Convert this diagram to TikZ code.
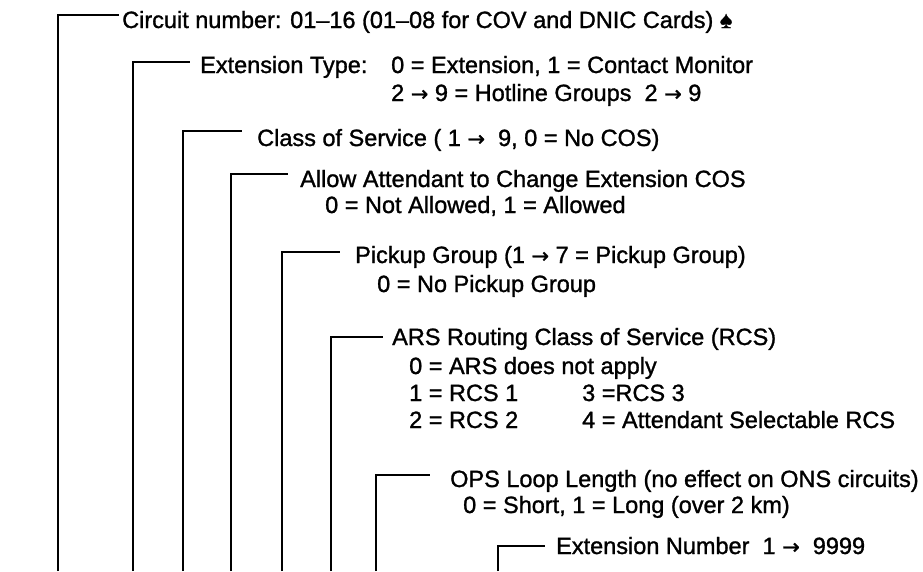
\documentclass[tikz,border=0pt]{standalone}
\usepackage{fontspec}
\setmainfont{Liberation Sans}
\newfontfamily\arrowfont{DejaVu Sans}[FakeBold=1]
\newcommand\toarr{{\arrowfont\fontsize{21}{28}\selectfont →}}
\usepackage{tikz}
\usetikzlibrary{positioning}

\begin{document}
\begin{tikzpicture}[
    x=1pt, y=-1pt,
    every node/.style={font=\fontsize{23.5}{28}\selectfont\addfontfeatures{FakeBold=1.2}},
    lbl/.style={anchor=base west, inner sep=0pt},
    lead/.style={line width=2.8pt, draw=black}
]
\useasboundingbox (0,0) rectangle (923,571);

% Bracket corners and their feet on the bottom edge
\foreach \n/\x/\y/\e in {circ/58/15/119, type/133/62/190, cos/183/131/242,
    allow/231/174/288, pick/282/252/340, ars/331/337/383, ops/376/475/430,
    num/498/546/545}{
  \coordinate (\n-foot) at (\x,571);
  \coordinate (\n-end) at (\e,\y);
}

% Circuit number
\node[lbl] (circ) at (122,28) {Circuit number: 01–16 (01–08 for COV and DNIC Cards) ♠};

% Extension type
\node[lbl] (type) at (200,73) {Extension Type:};
\node[lbl] (type-a) at (391,73) {0 = Extension, 1 = Contact Monitor};
\node[lbl] (type-b) at (391,101) {2 \toarr\ 9 = Hotline Groups\ \ 2 \toarr\ 9};

% Class of service
\node[lbl] (cos) at (257,146) {Class of Service ( 1 \toarr\ \ 9, 0 = No COS)};

% Attendant change
\node[lbl] (allow) at (300,187) {Allow Attendant to Change Extension COS};
\node[lbl] (allow-a) at (325,213) {0 = Not Allowed, 1 = Allowed};

% Pickup group
\node[lbl] (pick) at (355,263) {Pickup Group (1 \toarr\ 7 = Pickup Group)};
\node[lbl] (pick-a) at (377,292) {0 = No Pickup Group};

% ARS routing
\node[lbl] (ars) at (392,345) {ARS Routing Class of Service (RCS)};
\node[lbl] (ars-a) at (409,374) {0 = ARS does not apply};
\node[lbl] (ars-b) at (409,401) {1 = RCS 1};
\node[lbl] (ars-c) at (409,428) {2 = RCS 2};
\node[lbl] (ars-d) at (582,401) {3 =RCS 3};
\node[lbl] (ars-e) at (582,428) {4 = Attendant Selectable RCS};

% OPS loop length
\node[lbl] (ops) at (450,487) {OPS Loop Length (no effect on ONS circuits)};
\node[lbl] (ops-a) at (463,513) {0 = Short, 1 = Long (over 2 km)};

% Extension number
\node[lbl] (num) at (556,554) {Extension Number\ \ 1 \toarr\ \ 9999};

% Leads
\foreach \n in {circ,type,cos,allow,pick,ars,ops,num}
  \draw[lead] (\n-foot) |- (\n-end);

\end{tikzpicture}
\end{document}
